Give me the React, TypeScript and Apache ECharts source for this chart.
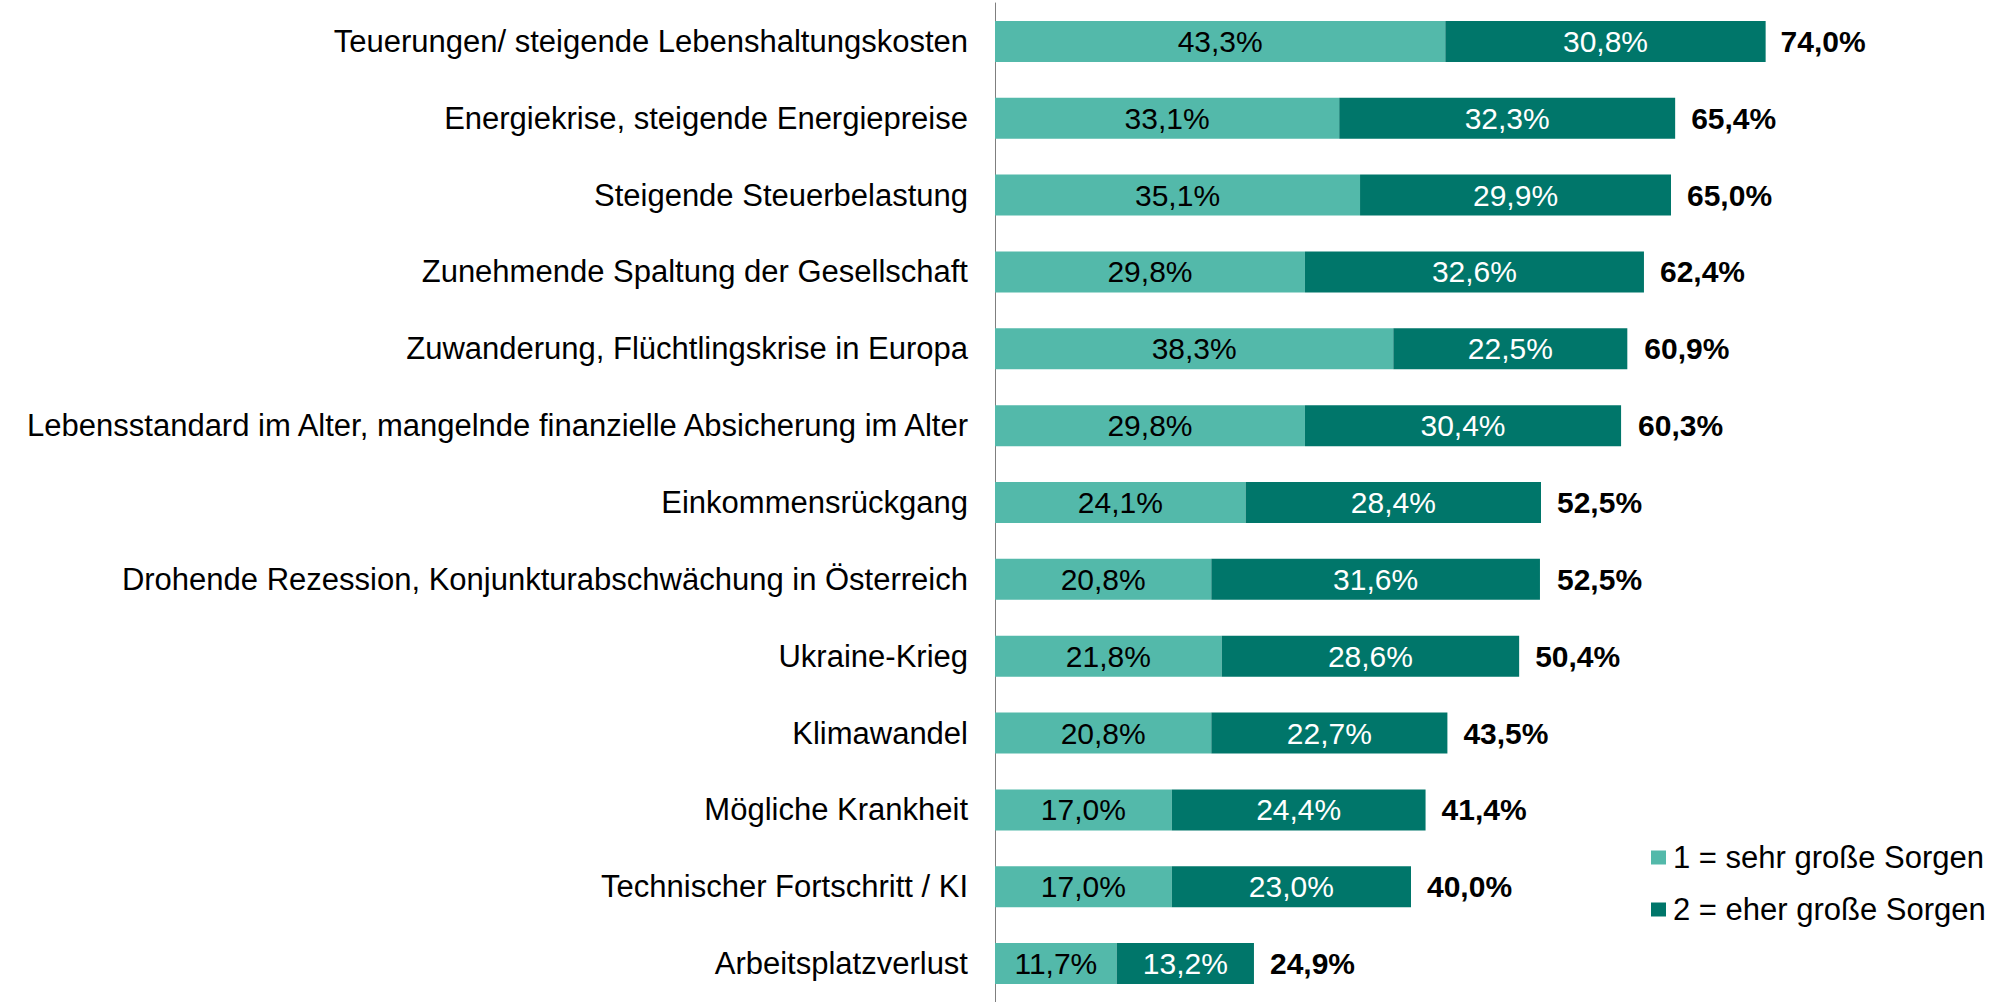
import React, { useEffect, useRef } from "react";
import * as echarts from "echarts";

const categories = [
  "Teuerungen/ steigende Lebenshaltungskosten",
  "Energiekrise, steigende Energiepreise",
  "Steigende Steuerbelastung",
  "Zunehmende Spaltung der Gesellschaft",
  "Zuwanderung, Flüchtlingskrise in Europa",
  "Lebensstandard im Alter, mangelnde finanzielle Absicherung im Alter",
  "Einkommensrückgang",
  "Drohende Rezession, Konjunkturabschwächung in Österreich",
  "Ukraine-Krieg",
  "Klimawandel",
  "Mögliche Krankheit",
  "Technischer Fortschritt / KI",
  "Arbeitsplatzverlust",
];

const sehrGrosse = [43.3, 33.1, 35.1, 29.8, 38.3, 29.8, 24.1, 20.8, 21.8, 20.8, 17.0, 17.0, 11.7];
const eherGrosse = [30.8, 32.3, 29.9, 32.6, 22.5, 30.4, 28.4, 31.6, 28.6, 22.7, 24.4, 23.0, 13.2];
const totals = [74.0, 65.4, 65.0, 62.4, 60.9, 60.3, 52.5, 52.5, 50.4, 43.5, 41.4, 40.0, 24.9];

const seriesNames = ["1 = sehr große Sorgen", "2 = eher große Sorgen"];

const FONT = "'Liberation Sans', Arial, sans-serif";
const fmt = (v: number) => v.toFixed(1).replace(".", ",") + "%";

export default function App() {
  const ref = useRef<HTMLDivElement>(null);

  useEffect(() => {
    if (!ref.current) return;
    const chart = echarts.init(ref.current, null, { renderer: "svg" });
    chart.setOption({
      animation: false,
      backgroundColor: "#ffffff",
      textStyle: { fontFamily: FONT },
      grid: { left: 995, top: 3, width: 936, height: 1005, containLabel: false },
      legend: {
        data: seriesNames,
        orient: "vertical",
        left: 1651,
        top: 842,
        itemWidth: 15,
        itemHeight: 14,
        itemGap: 21,
        padding: 0,
        icon: "rect",
        textStyle: { fontSize: 31, lineHeight: 31, color: "#000", fontFamily: FONT, padding: [0, 0, 0, 2] },
      },
      xAxis: {
        type: "value",
        min: 0,
        max: 90,
        show: false,
        splitLine: { show: false },
      },
      yAxis: {
        type: "category",
        data: categories,
        inverse: true,
        axisLine: { show: true, lineStyle: { color: "#7f7f7f", width: 1 } },
        axisTick: { show: false },
        axisLabel: { fontSize: 31, color: "#000", margin: 27, fontFamily: FONT },
      },
      series: [
        {
          name: seriesNames[0],
          type: "bar",
          stack: "s",
          barWidth: 41,
          data: sehrGrosse,
          itemStyle: { color: "#53b9aa" },
          label: {
            show: true,
            position: "inside",
            color: "#000",
            fontSize: 30,
            fontFamily: FONT,
            formatter: (p: any) => fmt(p.value),
          },
        },
        {
          name: seriesNames[1],
          type: "bar",
          stack: "s",
          barWidth: 41,
          data: eherGrosse,
          itemStyle: { color: "#00766a" },
          label: {
            show: true,
            position: "inside",
            color: "#fff",
            fontSize: 30,
            fontFamily: FONT,
            formatter: (p: any) => fmt(p.value),
          },
        },
        {
          name: "Gesamt",
          type: "bar",
          barWidth: 41,
          barGap: "-100%",
          data: totals,
          itemStyle: { color: "rgba(0,0,0,0)" },
          silent: true,
          z: 1,
          label: {
            show: true,
            position: "right",
            distance: 16,
            color: "#000",
            fontSize: 30,
            fontWeight: "bold",
            fontFamily: FONT,
            formatter: (p: any) => fmt(p.value),
          },
        },
      ],
    });
    return () => chart.dispose();
  }, []);

  return (
    <div
      ref={ref}
      style={{ position: "fixed", left: 0, top: 0, width: 2000, height: 1002, background: "#fff" }}
    />
  );
}
